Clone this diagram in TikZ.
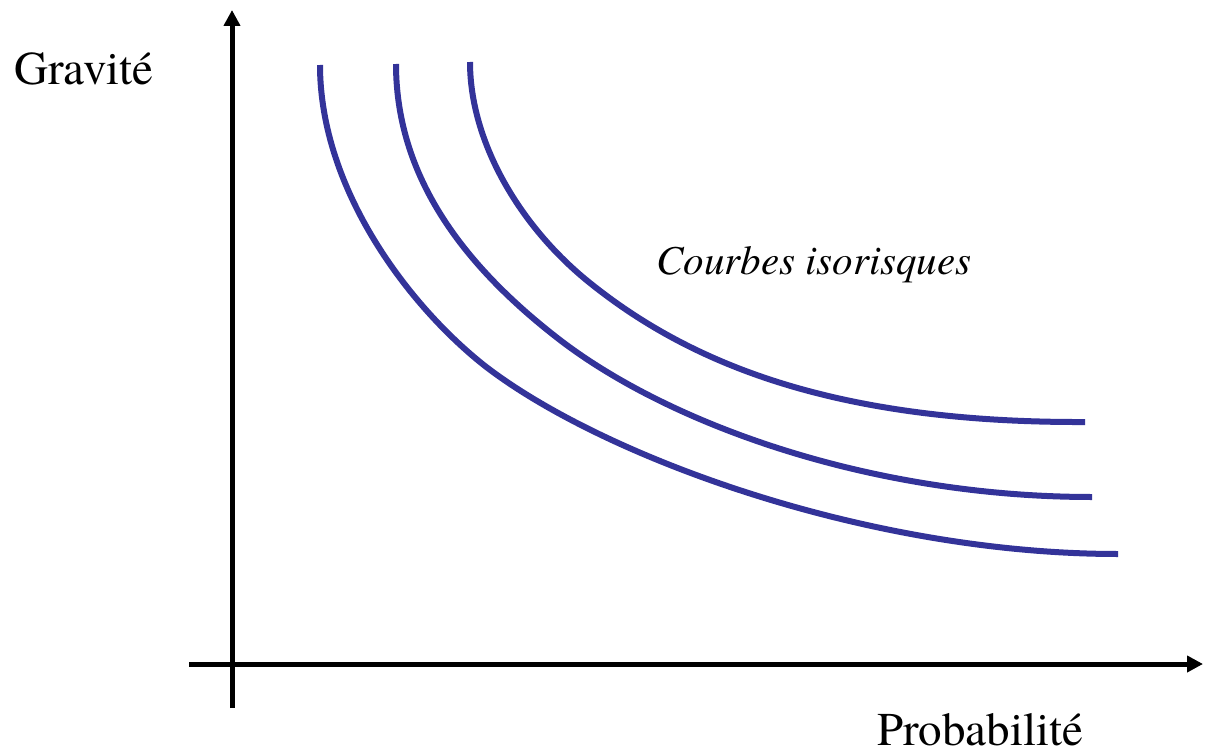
\documentclass[tikz,border=0pt]{standalone}
\usepackage{fontspec}
\setmainfont{texgyretermes}[Extension=.otf, UprightFont=*-regular, ItalicFont=*-italic, BoldFont=*-bold]
\usetikzlibrary{arrows.meta}
\definecolor{curveblue}{RGB}{51,51,153}
\tikzset{
  axis/.style={line width=5pt, -{Triangle[length=16pt,width=16pt]}},
  isocurve/.style={line width=6pt, curveblue, line cap=butt},
  lbl/.style={inner sep=0pt, anchor=base west, font=\fontsize{47}{56}\selectfont},
}
\begin{document}
\begin{tikzpicture}[x=1pt,y=-1pt]
\useasboundingbox (0,0) rectangle (1206,754);
\coordinate (ybot) at (232,708);
\coordinate (ytop) at (232,10);
\coordinate (xleft) at (189,664);
\coordinate (xright) at (1203,664);
\draw[axis] (ybot) -- (ytop);
\draw[axis] (xleft) -- (xright);
% outer curve
\coordinate (a0) at (320,65);
\coordinate (a1) at (485,366);
\coordinate (a2) at (1118,554);
\draw[isocurve] (a0) .. controls (320,190) and (410,307) .. (a1)
                     .. controls (603,457) and (868,554) .. (a2);
% middle curve
\coordinate (b0) at (396,64);
\coordinate (b1) at (560,340);
\coordinate (b2) at (1092,497);
\draw[isocurve] (b0) .. controls (396,184) and (473,273) .. (b1)
                     .. controls (671,425) and (872,497) .. (b2);
% inner curve
\coordinate (c0) at (470,62);
\coordinate (c1) at (590,283);
\coordinate (c2) at (1085,422);
\draw[isocurve] (c0) .. controls (470,142) and (520,227) .. (c1)
                     .. controls (691,364) and (835,423) .. (c2);
\node[lbl] (grav) at (14,85) {Gravité};
\node[lbl] (prob) at (877,745) {Probabilité};
\node[lbl, font=\fontsize{41}{49}\selectfont\itshape] (courbes) at (656,274) {Courbes isorisques};
\end{tikzpicture}
\end{document}
